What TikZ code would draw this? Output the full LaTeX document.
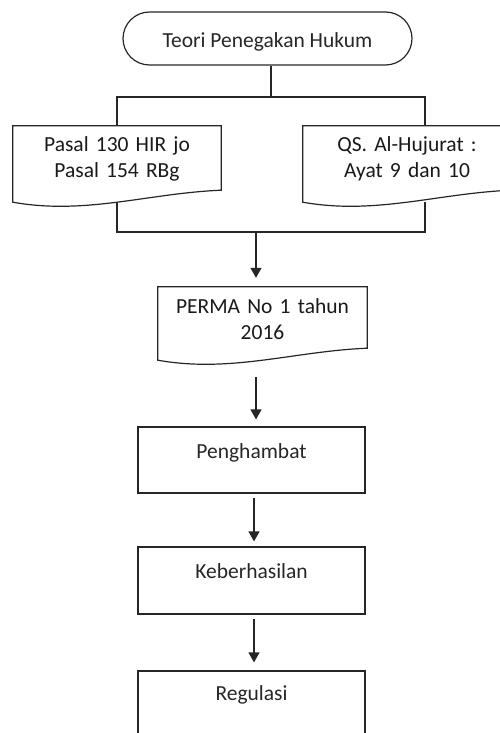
\documentclass[tikz,border=0pt]{standalone}
\usepackage{fontspec}
\setmainfont{Carlito}
\usetikzlibrary{shapes.misc,arrows.meta,calc}

\tikzset{
  garis/.style={line width=1.2pt, black!85},
  teks/.style={text=black!90, font=\fontsize{21.5}{26}\selectfont, inner sep=0pt},
  terminal/.style={teks, rounded rectangle, draw, garis, minimum width=289pt, minimum height=53pt},
  dok/.style={teks, rectangle, align=center},
  kotak/.style={teks, rectangle, draw, garis, minimum width=227pt},
  panah/.style={garis, -{Triangle[width=11pt,length=10pt]}}
}

\begin{document}
\begin{tikzpicture}[x=1pt, y=-1pt]

  \useasboundingbox (0,0) rectangle (500,733);
  \clip (0,0) rectangle (500,733);

  % lembar dokumen dengan tepi bawah bergelombang
  \newcommand\dokumen[1]{%
    \draw[garis] (#1.south west) -- (#1.north west) -- (#1.north east)
      -- ([yshift=12pt]#1.south east)
      .. controls ([yshift=9pt]$(#1.south west)!0.65!(#1.south east)$)
      and ([yshift=-13pt]$(#1.south west)!0.35!(#1.south east)$) .. (#1.south west) -- cycle;}

  \node[terminal, text height=36pt, text depth=17pt] (teori) at (267.5, 38.5) {Teori Penegakan Hukum};

  \node[dok, text width=208pt, text height=25pt, text depth=51pt] (kiri) at (117, 164) {Pasal 130 HIR jo\\Pasal 154 RBg};
  \node[dok, text width=208pt, text height=25pt, text depth=51pt] (kanan) at (407, 164) {QS. Al-Hujurat :\\Ayat 9 dan 10};
  \dokumen{kiri}
  \dokumen{kanan}

  \node[dok, text width=209pt, text height=26pt, text depth=47pt] (perma) at (262.5, 323.5) {PERMA No 1 tahun\\2016};
  \dokumen{perma}

  \node[kotak, text height=31pt, text depth=35pt] (hambat) at (251.5, 460) {Penghambat};
  \node[kotak, text height=31pt, text depth=36pt] (hasil) at (251.5, 580.5) {Keberhasilan};
  \node[kotak, text height=29pt, text depth=38pt] (regulasi) at (251.5, 704.5) {Regulasi};

  % percabangan atas
  \coordinate (cabang) at (271, 97);
  \draw[garis] (teori.south -| cabang) -- (cabang);
  \draw[garis] (kiri.north) |- (cabang) -| (kanan.north -| 425,0);

  % penggabungan bawah
  \coordinate (gabung) at (256, 232);
  \draw[garis] (kiri.south) |- (gabung) -| (kanan.south -| 425,0);

  \draw[panah, shorten >=9pt] (gabung) -- (gabung |- perma.north);
  \draw[panah, shorten <=17pt, shorten >=7pt] (perma.south -| 256,0) -- (hambat.north -| 256,0);
  \draw[panah, shorten <=4pt, shorten >=5pt] (hambat.south -| 254,0) -- (hasil.north -| 254,0);
  \draw[panah, shorten <=4pt, shorten >=8pt] (hasil.south -| 254,0) -- (regulasi.north -| 254,0);

\end{tikzpicture}
\end{document}
